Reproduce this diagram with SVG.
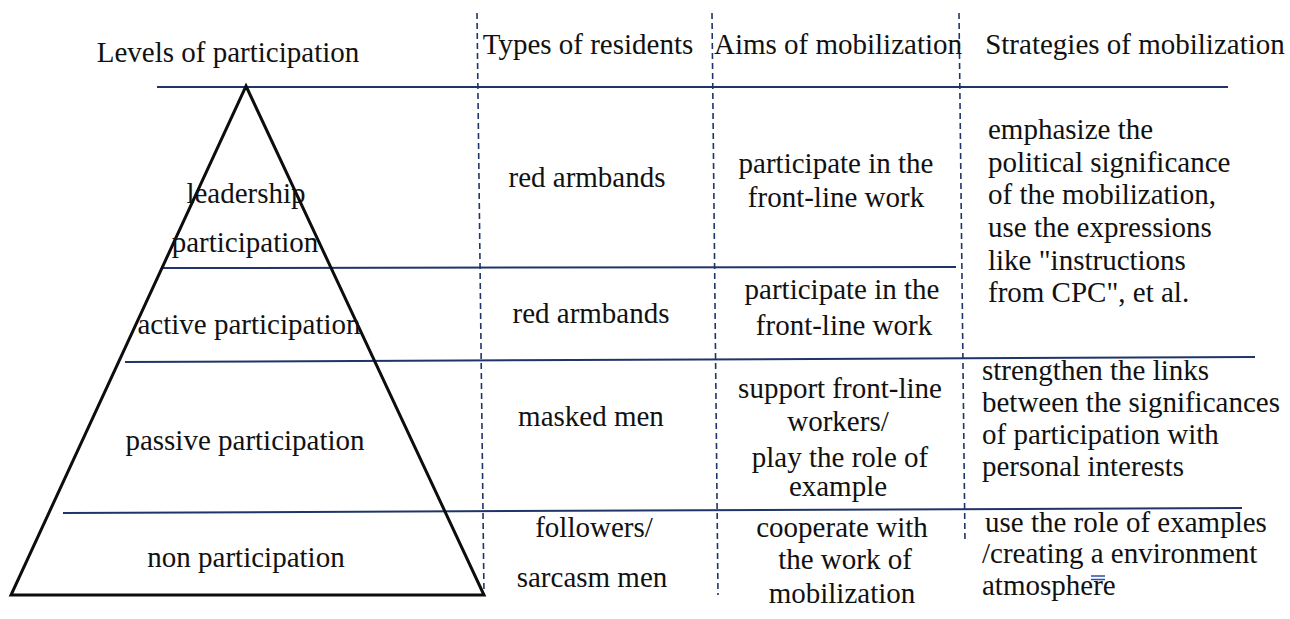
<svg xmlns="http://www.w3.org/2000/svg" width="1290" height="619" viewBox="0 0 1290 619">
<style>
.t text{font-family:'Liberation Serif','Times New Roman',serif;font-size:29px;fill:#111}
.c{text-anchor:middle}
.h{stroke:#1f3468;stroke-width:2;fill:none}
.d{stroke:#1f3468;stroke-width:1.6;stroke-dasharray:6 4;fill:none}
.tri{stroke:#0d0d0d;stroke-width:3;fill:none;stroke-linejoin:miter}
.u{stroke:#2e4fa8;stroke-width:1.5}
</style>
<rect width="1290" height="619" fill="#fff"/>
<g id="connectors">
<line class="h" x1="157" y1="87" x2="1228" y2="87"/>
<line class="h" x1="163" y1="268" x2="956" y2="267"/>
<line class="h" x1="125" y1="362" x2="1255" y2="357"/>
<line class="h" x1="63" y1="513" x2="1242" y2="508"/>
<line class="d" x1="477" y1="13" x2="484" y2="595"/>
<line class="d" x1="712" y1="13" x2="718" y2="595"/>
<line class="d" x1="959" y1="13" x2="965" y2="543"/>
</g>
<g id="pyramid">
<polygon class="tri" points="246,86 484,595 11,595"/>
</g>
<g class="t" font-family="Liberation Serif" font-size="29">
<g id="header">
<text x="228" y="62" class="c">Levels of participation</text>
<text x="588" y="54" class="c">Types of residents</text>
<text x="838" y="54" class="c">Aims of mobilization</text>
<text x="1135" y="54" class="c">Strategies of mobilization</text>
</g>
<g id="level-leadership">
<text x="246" y="203" class="c">leadership</text>
<text x="245" y="252" class="c">participation</text>
</g>
<g id="level-active"><text x="249" y="334" class="c">active participation</text></g>
<g id="level-passive"><text x="245" y="450" class="c">passive participation</text></g>
<g id="level-non"><text x="246" y="567" class="c">non participation</text></g>
<g id="type-1"><text x="587" y="187" class="c">red armbands</text></g>
<g id="type-2"><text x="591" y="323" class="c">red armbands</text></g>
<g id="type-3"><text x="591" y="426" class="c">masked men</text></g>
<g id="type-4">
<text x="594" y="537" class="c">followers/</text>
<text x="592" y="587" class="c">sarcasm men</text>
</g>
<g id="aim-1">
<text x="836" y="173" class="c">participate in the</text>
<text x="836" y="207" class="c">front-line work</text>
</g>
<g id="aim-2">
<text x="842" y="299" class="c">participate in the</text>
<text x="844" y="335" class="c">front-line work</text>
</g>
<g id="aim-3">
<text x="840" y="398" class="c">support front-line</text>
<text x="838" y="431" class="c">workers/</text>
<text x="840" y="467" class="c">play the role of</text>
<text x="838" y="496" class="c">example</text>
</g>
<g id="aim-4">
<text x="842" y="537" class="c">cooperate with</text>
<text x="845" y="569" class="c">the work of</text>
<text x="842" y="603" class="c">mobilization</text>
</g>
<g id="strategy-1">
<text x="988" y="139">emphasize the</text>
<text x="988" y="172">political significance</text>
<text x="988" y="204">of the mobilization,</text>
<text x="988" y="237">use the expressions</text>
<text x="988" y="270">like "instructions</text>
<text x="988" y="302">from CPC", et al.</text>
</g>
<g id="strategy-2">
<text x="982" y="380">strengthen the links</text>
<text x="982" y="412">between the significances</text>
<text x="982" y="444">of participation with</text>
<text x="982" y="476">personal interests</text>
</g>
<g id="strategy-3">
<text x="985" y="532">use the role of examples</text>
<text x="982" y="563">/creating a environment</text>
<text x="982" y="595">atmosphere</text>
<line class="u" x1="1091" y1="576" x2="1105" y2="576"/>
<line class="u" x1="1091" y1="579.5" x2="1105" y2="579.5"/>
</g>
</g>
</svg>
